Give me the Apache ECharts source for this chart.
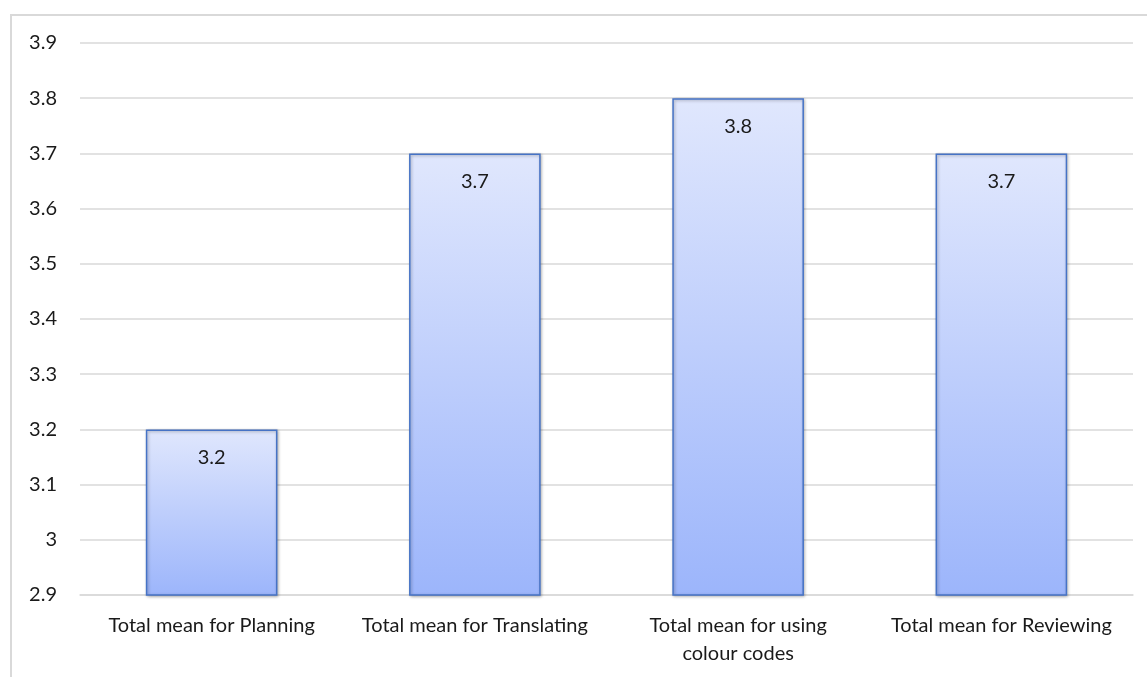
<!DOCTYPE html>
<html>
<head>
<meta charset="utf-8">
<script src="https://cdn.jsdelivr.net/npm/echarts@6/dist/echarts.min.js"></script>
<style>
html,body{margin:0;padding:0;background:#fff;}
#frame{position:absolute;left:10px;top:14px;width:1160px;height:700px;border:2px solid #d9d9d9;box-sizing:border-box;}
#chart{position:absolute;left:0;top:0;width:1147px;height:677px;}
</style>
</head>
<body>
<div id="frame"></div>
<div id="chart"></div>
<script>
const categories = ["Total mean for Planning", "Total mean for Translating", "Total mean for using\ncolour codes", "Total mean for Reviewing"];
const values = [3.2, 3.7, 3.8, 3.7];
const yTicks = { min: 2.9, max: 3.9, step: 0.1 };

const chart = echarts.init(document.getElementById('chart'), null, { renderer: 'canvas' });
const font = 'Lato, "Open Sans", sans-serif';
chart.setOption({
  animation: false,
  grid: { left: 80, right: 14, top: 43, bottom: 82, containLabel: false },
  xAxis: {
    type: 'category',
    data: categories,
    axisLine: { show: true, lineStyle: { color: '#d9d9d9', width: 1.5 } },
    axisTick: { show: false },
    axisLabel: { interval: 0, margin: 17, color: '#1a1a1a', fontSize: 20, fontFamily: font, lineHeight: 28, align: 'center' }
  },
  yAxis: {
    type: 'value',
    min: yTicks.min, max: yTicks.max, interval: yTicks.step,
    axisLine: { show: false },
    axisTick: { show: false },
    splitLine: { lineStyle: { color: '#d9d9d9', width: 1.5 } },
    axisLabel: { margin: 23, color: '#1a1a1a', fontSize: 20, fontFamily: font,
      formatter: v => { const r = Math.round(v * 10) / 10; return r === 3 ? '3' : r.toFixed(1); } }
  },
  series: [{
    type: 'bar',
    data: values,
    barWidth: '50%',
    itemStyle: {
      color: new echarts.graphic.LinearGradient(0, 0, 0, 1, [
        { offset: 0, color: '#e0e7fd' },
        { offset: 1, color: '#9cb5fb' }
      ]),
      borderColor: '#4673c6',
      borderWidth: 1.5,
      shadowBlur: 3,
      shadowColor: 'rgba(0,0,0,0.3)',
      shadowOffsetX: 1,
      shadowOffsetY: 1
    },
    label: {
      show: true, position: 'insideTop', distance: 18,
      color: '#1a1a1a', fontSize: 20, fontFamily: font,
      formatter: p => p.value.toFixed(1)
    }
  }]
});
</script>
</body>
</html>
